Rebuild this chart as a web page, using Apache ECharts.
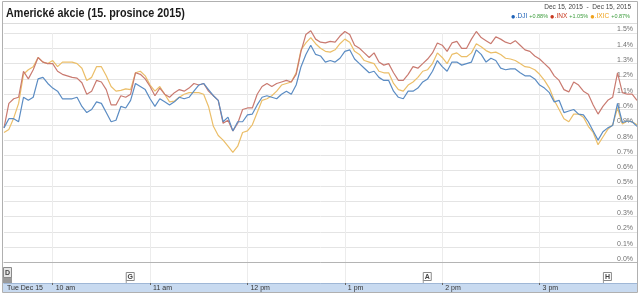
<!DOCTYPE html>
<html><head><meta charset="utf-8">
<script src="https://cdn.jsdelivr.net/npm/echarts@6/dist/echarts.min.js"></script>
<style>html,body{margin:0;padding:0;background:#fff}#c{width:640px;height:295px}</style>
</head><body><div id="c"></div>
<script>
const times = ['9:30','9:33','9:36','9:39','9:42','9:45','9:48','9:51','9:54','9:57',
'10:00','10:03','10:06','10:09','10:12','10:15','10:18','10:21','10:24','10:27','10:30','10:33','10:36','10:39','10:42','10:45','10:48','10:51','10:54','10:57',
'11:00','11:03','11:06','11:09','11:12','11:15','11:18','11:21','11:24','11:27','11:30','11:33','11:36','11:39','11:42','11:45','11:48','11:51','11:54','11:57',
'12:00','12:03','12:06','12:09','12:12','12:15','12:18','12:21','12:24','12:27','12:30','12:33','12:36','12:39','12:42','12:45','12:48','12:51','12:54','12:57',
'13:00','13:03','13:06','13:09','13:12','13:15','13:18','13:21','13:24','13:27','13:30','13:33','13:36','13:39','13:42','13:45','13:48','13:51','13:54','13:57',
'14:00','14:03','14:06','14:09','14:12','14:15','14:18','14:21','14:24','14:27','14:30','14:33','14:36','14:39','14:42','14:45','14:48','14:51','14:54','14:57',
'15:00','15:03','15:06','15:09','15:12','15:15','15:18','15:21','15:24','15:27','15:30','15:33','15:36','15:39','15:42','15:45','15:48','15:51','15:54','15:57',
'16:00'];

const dji = [0.88,0.94,0.94,0.92,1.08,1.06,1.08,1.20,1.21,1.17,
1.14,1.12,1.07,1.07,1.07,1.08,1.02,0.98,1.00,1.05,1.04,0.98,0.92,0.93,1.02,1.01,1.06,1.17,1.15,1.13,
1.07,1.02,1.07,1.05,1.03,1.05,1.08,1.07,1.08,1.12,1.16,1.17,1.13,1.09,1.06,0.92,0.95,0.86,0.92,0.92,
0.965,0.97,1.03,1.08,1.09,1.08,1.07,1.10,1.12,1.10,1.16,1.28,1.36,1.42,1.36,1.35,1.31,1.32,1.31,1.335,
1.38,1.39,1.33,1.30,1.27,1.24,1.25,1.21,1.19,1.19,1.12,1.08,1.07,1.12,1.12,1.14,1.18,1.20,1.25,1.32,
1.28,1.25,1.31,1.31,1.29,1.30,1.31,1.39,1.36,1.31,1.335,1.32,1.27,1.26,1.265,1.265,1.24,1.22,1.22,1.20,
1.16,1.14,1.11,1.05,1.06,0.98,0.99,1.00,0.97,0.965,0.92,0.86,0.80,0.855,0.88,0.895,1.04,0.915,0.925,0.92,
0.89];

const inx = [0.88,1.04,1.07,1.08,1.25,1.20,1.26,1.34,1.31,1.30,
1.30,1.25,1.23,1.22,1.21,1.205,1.175,1.10,1.12,1.19,1.18,1.13,1.03,1.03,1.09,1.08,1.10,1.24,1.23,1.20,
1.15,1.09,1.14,1.10,1.08,1.11,1.13,1.12,1.14,1.17,1.16,1.17,1.12,1.09,1.06,0.91,0.93,0.86,0.91,1.00,
1.01,1.01,1.10,1.15,1.17,1.15,1.17,1.18,1.19,1.18,1.23,1.38,1.49,1.515,1.46,1.44,1.435,1.445,1.44,1.48,
1.51,1.49,1.42,1.40,1.37,1.34,1.37,1.31,1.29,1.30,1.24,1.19,1.19,1.23,1.28,1.27,1.30,1.33,1.37,1.435,
1.42,1.38,1.435,1.445,1.40,1.40,1.46,1.51,1.47,1.45,1.43,1.475,1.46,1.44,1.43,1.45,1.42,1.39,1.38,1.35,
1.33,1.30,1.27,1.22,1.19,1.13,1.115,1.18,1.16,1.12,1.10,1.03,0.97,1.02,1.06,1.08,1.24,1.11,1.10,1.10,
1.06];

const ixic = [0.85,0.87,0.945,1.04,1.23,1.26,1.28,1.34,1.31,1.30,
1.32,1.28,1.31,1.31,1.31,1.30,1.27,1.19,1.21,1.28,1.28,1.22,1.15,1.12,1.125,1.135,1.13,1.24,1.25,1.22,
1.16,1.12,1.15,1.10,1.05,1.055,1.08,1.10,1.11,1.11,1.11,1.10,1.02,0.89,0.83,0.80,0.76,0.72,0.76,0.85,
0.86,0.90,0.98,1.06,1.07,1.09,1.12,1.16,1.17,1.18,1.24,1.39,1.435,1.47,1.43,1.40,1.38,1.375,1.39,1.43,
1.46,1.44,1.38,1.36,1.32,1.31,1.30,1.25,1.24,1.24,1.17,1.13,1.12,1.16,1.18,1.21,1.25,1.26,1.30,1.37,
1.34,1.30,1.36,1.37,1.345,1.345,1.37,1.43,1.41,1.385,1.37,1.375,1.36,1.335,1.33,1.32,1.30,1.28,1.275,1.26,
1.23,1.19,1.14,1.06,1.00,0.94,0.92,0.97,0.97,0.95,0.89,0.85,0.77,0.82,0.87,0.90,1.01,0.905,0.925,0.92,
0.90];

const seriesNames = ['.DJI', '.INX', '.IXIC'];
const seriesChanges = ['+0.88%', '+1.05%', '+0.87%'];
const tickTimes = ['9:30','10:00','11:00','12:00','13:00','14:00','15:00'];
const tickLabels = ['Tue Dec 15','10 am','11 am','12 pm','1 pm','2 pm','3 pm'];
const flagTimes = ['9:30','10:45','13:48','15:39'];
const flagLetters = ['D','G','A','H'];
const flagLevels = [16, 11, 11, 11];
const dateRange = 'Dec 15, 2015  -  Dec 15, 2015';
const title = 'Americké akcie (15. prosince 2015)';

const lineColors = ['#5b8cc3', '#c97a70', '#ebbe68'];
const dotColors = ['#1f63b8', '#c8391f', '#f0a21c'];

const isHour = (i, v) => /:00$/.test(v);
const isTick = (i, v) => tickTimes.indexOf(v) >= 0;

const chart = echarts.init(document.getElementById('c'), null, {renderer: 'canvas'});
const option = {
  animation: false,
  grid: [
    {left: 4, right: 3, top: 33, bottom: 32.5},
    {left: 4, right: 3, top: 263, height: 20}
  ],
  xAxis: [
    {gridIndex: 0, type: 'category', data: times, boundaryGap: false,
     axisLine: {show: true, lineStyle: {color: '#b4b4b4', width: 1}},
     axisTick: {show: false}, axisLabel: {show: false},
     splitLine: {show: true, interval: isHour, lineStyle: {color: '#ececec', width: 1}}},
    {gridIndex: 1, type: 'category', data: times, boundaryGap: false,
     axisLine: {show: true, lineStyle: {color: '#9fb7d6', width: 1}},
     axisTick: {show: true, interval: isHour, length: 2, lineStyle: {color: '#666'}},
     axisLabel: {show: true, interval: isTick, margin: 2, fontSize: 7, color: '#333',
       fontFamily: 'Liberation Sans', align: 'left', padding: [0, 0, 0, 3],
       formatter: v => tickLabels[tickTimes.indexOf(v)]},
     splitLine: {show: true, interval: isHour, lineStyle: {color: '#ececec', width: 1}}}
  ],
  yAxis: [
    {gridIndex: 0, type: 'value', position: 'right', min: 0, max: 1.5, interval: 0.1,
     axisLine: {show: false}, axisTick: {show: false},
     axisLabel: {inside: true, margin: 4, fontSize: 7, color: '#707070', fontFamily: 'Liberation Sans',
       verticalAlign: 'bottom', formatter: v => v.toFixed(1) + '%'},
     splitLine: {show: true, lineStyle: {color: '#e4e4e4', width: 1}}},
    {gridIndex: 1, type: 'value', min: 0, max: 20, show: false}
  ],
  series: [
    {name: seriesNames[0], type: 'line', data: dji, showSymbol: false, clip: false,
     lineStyle: {color: lineColors[0], width: 1.2}, z: 3},
    {name: seriesNames[1], type: 'line', data: inx, showSymbol: false, clip: false,
     lineStyle: {color: lineColors[1], width: 1.2}, z: 2},
    {name: seriesNames[2], type: 'line', data: ixic, showSymbol: false, clip: false,
     lineStyle: {color: lineColors[2], width: 1.2}, z: 1},
    {type: 'custom', xAxisIndex: 1, yAxisIndex: 1, clip: false,
     data: flagTimes.map((t, i) => [times.indexOf(t), flagLevels[i], i]),
     renderItem: (params, api) => {
       const i = api.value(2);
       const top = api.coord([api.value(0), api.value(1)]);
       const base = api.coord([api.value(0), 0]);
       const sel = i === 0;
       const w = 8, h = sel ? 10 : 8;
       const children = [];
       if (sel) {
         children.push({type: 'rect', shape: {x: top[0] - 1, y: top[1] + h, width: w + 1, height: base[1] - top[1] - h},
           style: {fill: '#9a9a9a'}});
       } else {
         children.push({type: 'line', shape: {x1: top[0] + 0.5, y1: top[1] + h, x2: top[0] + 0.5, y2: base[1]},
           style: {stroke: '#999', lineWidth: 1}});
       }
       children.push({type: 'rect', shape: {x: top[0] + (sel ? -0.5 : 0.5), y: top[1] + 0.5, width: w, height: h},
         style: {fill: sel ? '#e6e6e6' : '#fff', stroke: '#8a8a8a', lineWidth: 1}});
       children.push({type: 'text', style: {text: flagLetters[i], x: top[0] + (sel ? 3.5 : 4.5), y: top[1] + h / 2 + 1,
         align: 'center', verticalAlign: 'middle', fontSize: 7, fontWeight: 'bold', fill: '#444', fontFamily: 'Liberation Sans'}});
       return {type: 'group', children};
     }}
  ],
  graphic: [
    {type: 'rect', z: -10, shape: {x: 3, y: 283, width: 634, height: 9}, style: {fill: '#c8daf0'}},
    {type: 'rect', z: 100, shape: {x: 2.5, y: 1.5, width: 635, height: 291}, style: {fill: null, stroke: '#b0b0b0', lineWidth: 1}},
    {type: 'line', z: 100, shape: {x1: 3, y1: 23.5, x2: 637, y2: 23.5}, style: {stroke: '#dcdcdc', lineWidth: 1}},
    {type: 'text', z: 100, x: 6, y: 13.5, scaleX: 0.83, style: {text: title, x: 0, y: 0, verticalAlign: 'middle', fontSize: 13, fontWeight: 'bold',
      fill: '#1a1a1a', fontFamily: 'Liberation Sans'}},
    {type: 'text', z: 100, style: {text: dateRange, x: 631, y: 7, align: 'right', verticalAlign: 'middle', fontSize: 6.5,
      fill: '#444', fontFamily: 'Liberation Sans'}},
    {type: 'text', z: 100, style: {
      text: seriesNames.map((n, i) => '{d' + i + '|●}{n' + i + '|' + n + '}{c|' + seriesChanges[i] + '}').join(' '),
      x: 630, y: 16.5, align: 'right', verticalAlign: 'middle', fontFamily: 'Liberation Sans', fontSize: 6.5,
      rich: {
        d0: {fill: dotColors[0], fontSize: 8}, d1: {fill: dotColors[1], fontSize: 8}, d2: {fill: dotColors[2], fontSize: 8},
        n0: {fill: dotColors[0], fontSize: 6.5}, n1: {fill: dotColors[1], fontSize: 6.5}, n2: {fill: dotColors[2], fontSize: 6.5},
        c: {fill: '#3c9c3c', fontSize: 5.5, padding: [0, 0, 0, 2]}
      }}}
  ]
};
chart.setOption(option);
</script></body></html>
